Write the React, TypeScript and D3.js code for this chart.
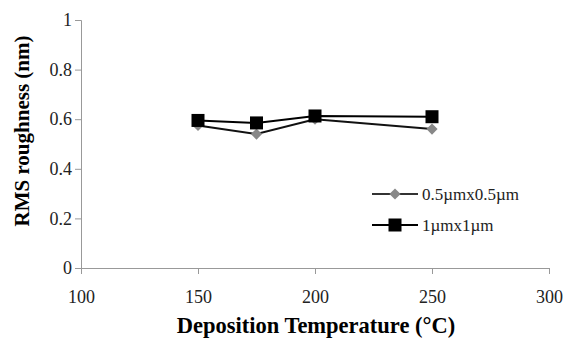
import React, { useEffect, useRef } from "react";
import * as d3 from "d3";

const temperatures = [150, 175, 200, 250];
const small = [0.575, 0.54, 0.6, 0.56];
const large = [0.595, 0.585, 0.613, 0.61];
const xTicks = [100, 150, 200, 250, 300];
const yTicks = [0, 0.2, 0.4, 0.6, 0.8, 1];
const seriesNames = ["0.5\u00b5mx0.5\u00b5m", "1\u00b5mx1\u00b5m"];

const App = () => {
  const ref = useRef<SVGSVGElement>(null);

  useEffect(() => {
    const svg = d3.select(ref.current);
    svg.selectAll("*").remove();
    const font = "Liberation Serif, Times New Roman, serif";

    const x = d3.scaleLinear().domain([100, 300]).range([81, 549]);
    const y = d3.scaleLinear().domain([0, 1]).range([268, 20]);

    // axes
    const xAxis = svg
      .append("g")
      .attr("transform", `translate(0,${y(0)})`)
      .call(d3.axisBottom(x).tickValues(xTicks).tickSize(6).tickFormat(d3.format("d")));
    const yAxis = svg
      .append("g")
      .attr("transform", `translate(${x(100)},0)`)
      .call(d3.axisLeft(y).tickValues(yTicks).tickSize(6).tickFormat((d) => String(+d)));

    [xAxis, yAxis].forEach((g) => {
      g.attr("font-family", font).attr("font-size", 18);
      g.select(".domain").attr("stroke", "#999").attr("stroke-width", 1);
      g.selectAll(".tick line").attr("stroke", "#999");
      g.selectAll("text").attr("fill", "#222");
    });
    xAxis.selectAll("text").attr("y", 35).attr("dy", 0);
    yAxis.selectAll("text").attr("x", -9);

    // titles
    svg
      .append("text")
      .attr("x", 316)
      .attr("y", 333)
      .attr("text-anchor", "middle")
      .attr("font-family", font)
      .attr("font-size", 22.5)
      .attr("font-weight", "bold")
      .text("Deposition Temperature (\u00b0C)");
    svg
      .append("text")
      .attr("transform", "translate(29,131) rotate(-90)")
      .attr("text-anchor", "middle")
      .attr("font-family", font)
      .attr("font-size", 21)
      .attr("font-weight", "bold")
      .text("RMS roughness (nm)");

    const line = d3
      .line<number>()
      .x((_, i) => x(temperatures[i]))
      .y((d) => y(d));

    // diamond series
    svg
      .append("path")
      .datum(small)
      .attr("d", line)
      .attr("fill", "none")
      .attr("stroke", "#111")
      .attr("stroke-width", 2);
    const diamond = d3.symbol().type(d3.symbolDiamond2).size(80);
    svg
      .selectAll(".dia")
      .data(small)
      .enter()
      .append("path")
      .attr("class", "dia")
      .attr("d", diamond)
      .attr("transform", (d, i) => `translate(${x(temperatures[i])},${y(d)})`)
      .attr("fill", "#888");

    // square series
    svg
      .append("path")
      .datum(large)
      .attr("d", line)
      .attr("fill", "none")
      .attr("stroke", "#000")
      .attr("stroke-width", 2);
    svg
      .selectAll(".sq")
      .data(large)
      .enter()
      .append("rect")
      .attr("class", "sq")
      .attr("x", (d, i) => x(temperatures[i]) - 6.5)
      .attr("y", (d) => y(d) - 6.5)
      .attr("width", 13)
      .attr("height", 13)
      .attr("fill", "#000");

    // legend
    const legend = svg.append("g").attr("transform", "translate(372,194)");
    seriesNames.forEach((name, i) => {
      const row = legend.append("g").attr("transform", `translate(0,${i * 31})`);
      row.append("line").attr("x1", 0).attr("x2", 46).attr("stroke", i === 0 ? "#333" : "#000").attr("stroke-width", 2);
      if (i === 0) {
        row.append("path").attr("d", diamond).attr("transform", "translate(23,0)").attr("fill", "#888");
      } else {
        row.append("rect").attr("x", 16.5).attr("y", -6.5).attr("width", 13).attr("height", 13).attr("fill", "#000");
      }
      row
        .append("text")
        .attr("x", 50)
        .attr("y", 6)
        .attr("font-family", font)
        .attr("font-size", 17)
        .attr("fill", "#222")
        .text(name);
    });
  }, []);

  return <svg ref={ref} width={566} height={339} style={{ position: "absolute", left: 0, top: 0, background: "#fff" }} />;
};

export default App;
